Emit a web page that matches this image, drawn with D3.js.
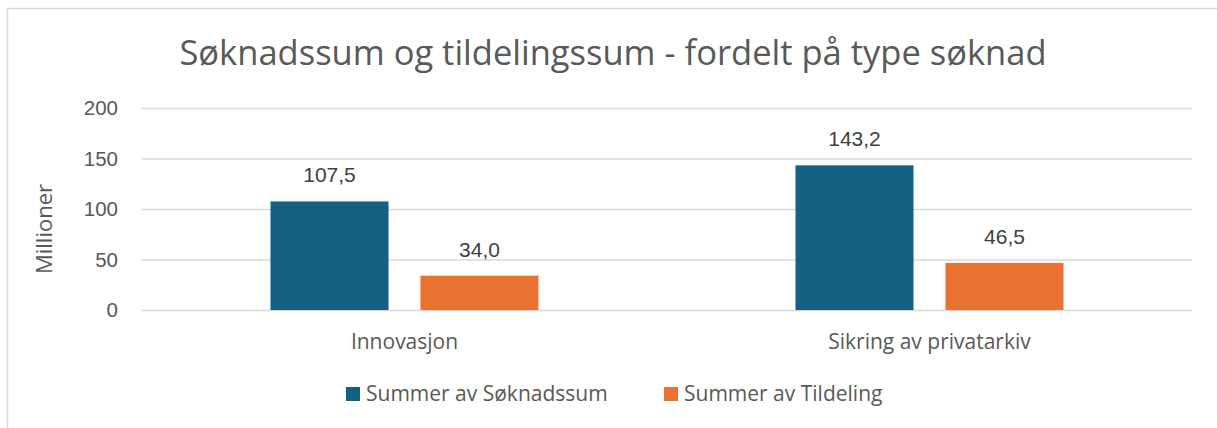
<!DOCTYPE html>
<html>
<head>
  <meta charset="utf-8">
  <style>
    body { margin: 0; background: #fff; }
    text { fill: #595959; font-family: "Liberation Sans", Arial, sans-serif; }
    .wide { font-family: "Open Sans", "Liberation Sans", sans-serif; }
  </style>
</head>
<body>
  <svg id="svg"></svg>
  <script src="https://cdn.jsdelivr.net/npm/d3@7"></script>
  <script>
    var width = 1217,
      height = 428;

    // data
    var categories = ["Innovasjon", "Sikring av privatarkiv"];
    var seriesNames = ["Summer av Søknadssum", "Summer av Tildeling"];
    var soknadssum = [107.5, 143.2];
    var tildeling = [34.0, 46.5];
    var yTicks = [0, 50, 100, 150, 200];
    var colors = ["#156082", "#E97132"];

    var svg = d3.select("#svg").attr("width", width).attr("height", height);

    // chart frame (only top and left edges are visible in the crop)
    svg.append("path")
      .attr("d", "M7.5,428 V8.5 H1217")
      .attr("fill", "none")
      .attr("stroke", "#d9d9d9")
      .attr("stroke-width", 1.5);

    var margin = { left: 142, right: 25, top: 108, bottom: 118 };

    var x0 = d3.scaleBand()
      .domain(categories)
      .range([margin.left, width - margin.right]);

    var x1 = d3.scaleBand()
      .domain(seriesNames)
      .range([0, 268])
      .paddingInner(0.213);

    var y = d3.scaleLinear()
      .domain([0, 200])
      .range([height - margin.bottom, margin.top]);

    // gridlines
    svg.append("g")
      .selectAll("line")
      .data(yTicks)
      .enter()
      .append("line")
      .attr("x1", margin.left)
      .attr("x2", width - margin.right)
      .attr("y1", function (d) { return y(d) + 0.5; })
      .attr("y2", function (d) { return y(d) + 0.5; })
      .attr("stroke", "#d9d9d9")
      .attr("stroke-width", 1.5);

    // y axis labels
    var yAxis = d3.axisLeft(y).tickValues(yTicks).tickSize(0).tickPadding(24);
    var gy = svg.append("g")
      .attr("transform", "translate(" + margin.left + ",0)")
      .call(yAxis);
    gy.select(".domain").remove();
    gy.selectAll("text")
      .attr("font-family", null)
      .attr("font-size", 20.5)
      .attr("fill", "#595959");

    svg.append("text")
      .attr("class", "wide")
      .attr("transform", "translate(52,229) rotate(-90)")
      .attr("text-anchor", "middle")
      .attr("font-size", 22)
      .text("Millioner");

    // bars
    var rows = categories.map(function (c, i) {
      return { cat: c, values: [soknadssum[i], tildeling[i]] };
    });

    var groups = svg.selectAll(".grp")
      .data(rows)
      .enter()
      .append("g")
      .attr("class", "grp")
      .attr("transform", function (d) {
        return "translate(" + (x0(d.cat) + (x0.bandwidth() - 268) / 2) + ",0)";
      });

    groups.selectAll("rect")
      .data(function (d) {
        return d.values.map(function (v, j) { return { name: seriesNames[j], v: v, j: j }; });
      })
      .enter()
      .append("rect")
      .attr("x", function (d) { return x1(d.name); })
      .attr("width", x1.bandwidth())
      .attr("y", function (d) { return y(d.v); })
      .attr("height", function (d) { return y(0) - y(d.v); })
      .attr("fill", function (d) { return colors[d.j]; });

    var fmt = function (v) { return d3.format(".1f")(v).replace(".", ","); };

    groups.selectAll(".lbl")
      .data(function (d) {
        return d.values.map(function (v, j) { return { name: seriesNames[j], v: v }; });
      })
      .enter()
      .append("text")
      .attr("class", "lbl")
      .attr("x", function (d) { return x1(d.name) + x1.bandwidth() / 2; })
      .attr("y", function (d) { return y(d.v) - 19; })
      .attr("text-anchor", "middle")
      .attr("font-size", 21)
      .style("fill", "#404040")
      .text(function (d) { return fmt(d.v); });

    // category labels
    svg.selectAll(".cat")
      .data(categories)
      .enter()
      .append("text")
      .attr("class", "cat wide")
      .attr("x", function (d) { return x0(d) + x0.bandwidth() / 2; })
      .attr("y", 349)
      .attr("text-anchor", "middle")
      .attr("font-size", 21)
      .text(function (d) { return d; });

    // title
    svg.append("text")
      .attr("class", "wide")
      .attr("x", 613)
      .attr("y", 65)
      .attr("text-anchor", "middle")
      .attr("font-size", 34.5)
      .text("Søknadssum og tildelingssum - fordelt på type søknad");

    // legend
    var legX = [346, 664];
    var leg = svg.selectAll(".leg")
      .data(seriesNames)
      .enter()
      .append("g")
      .attr("class", "leg")
      .attr("transform", function (d, i) { return "translate(" + legX[i] + ",387)"; });

    leg.append("rect")
      .attr("width", 14)
      .attr("height", 14)
      .attr("fill", function (d, i) { return colors[i]; });

    leg.append("text")
      .attr("class", "wide")
      .attr("x", 20)
      .attr("y", 14)
      .attr("font-size", 21)
      .text(function (d) { return d; });
  </script>
</body>
</html>
